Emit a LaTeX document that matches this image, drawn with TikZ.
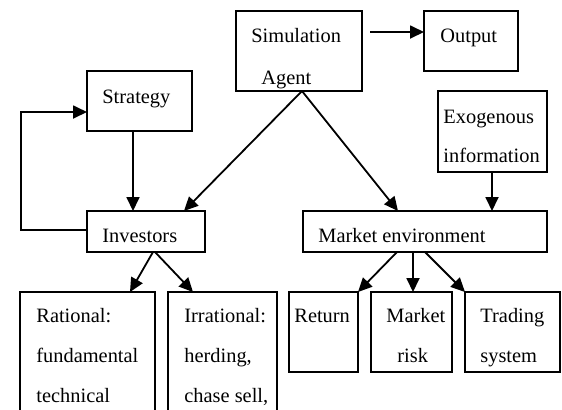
\documentclass[tikz,border=0pt]{standalone}
\usepackage{fontspec}
\setmainfont{Liberation Serif}
\usetikzlibrary{arrows.meta,calc,fit}
\begin{document}
\begin{tikzpicture}[x=0.5pt,y=-0.5pt,
  box/.style={draw, line width=0.9pt, inner sep=0pt, outer sep=0pt},
  txt/.style={anchor=base west, inner sep=0pt, font=\fontsize{10.2pt}{12pt}\selectfont},
  arr/.style={line width=0.9pt, -{Triangle[length=7pt,width=6.5pt]}},
  ln/.style={line width=0.9pt}]
\clip (0,0) rectangle (562,409);
% boxes
\node[box, fit={(236,11) (362,91)}] (sim) {};
\node[box, fit={(424,11) (518,71)}] (out) {};
\node[box, fit={(87,71) (192,131)}] (str) {};
\node[box, fit={(438,91) (547,172)}] (exo) {};
\node[box, fit={(87,211) (205,252)}] (inv) {};
\node[box, fit={(303,211) (547,252)}] (mkt) {};
\node[box, fit={(20,292) (155,430)}] (rat) {};
\node[box, fit={(168,292) (277,430)}] (irr) {};
\node[box, fit={(289,292) (358,372)}] (ret) {};
\node[box, fit={(371,292) (452,372)}] (risk) {};
\node[box, fit={(465,292) (560,372)}] (trd) {};
% texts
\node[txt] (t1) at (251,42) {Simulation};
\node[txt] (t2) at (261,84) {Agent};
\node[txt] (t3) at (440,42) {Output};
\node[txt] (t4) at (102,103) {Strategy};
\node[txt] (t5) at (443,123) {Exogenous};
\node[txt] (t6) at (443,162) {information};
\node[txt] (t7) at (102,242) {Investors};
\node[txt] (t8) at (318,242) {Market environment};
\node[txt] (t9) at (294,322) {Return};
\node[txt] (t10) at (386,322) {Market};
\node[txt] (t11) at (397,362) {risk};
\node[txt] (t12) at (480,322) {Trading};
\node[txt] (t13) at (480,362) {system};
\node[txt] (t14) at (36,322) {Rational:};
\node[txt] (t15) at (36,362) {fundamental};
\node[txt] (t16) at (36,402) {technical};
\node[txt] (t17) at (184,322) {Irrational:};
\node[txt] (t18) at (184,362) {herding,};
\node[txt] (t19) at (184,402) {chase sell,};
% connectors
\draw[arr] ($(sim.north east)+(8,21)$) -- ($(out.north west)+(0,21)$);
\draw[arr] ($(sim.south)+(3,0)$) -- ($(inv.north west)+(97,0)$);
\draw[arr] ($(sim.south)+(3,0)$) -- ($(mkt.north west)+(95,0)$);
\draw[arr] ($(str.south west)+(46,0)$) -- ($(inv.north west)+(46,0)$);
\coordinate (lp1) at (21,230);
\coordinate (lp2) at (21,112);
\draw[arr] ($(inv.north west)+(0,19)$) -- (lp1) -- (lp2) -- ($(str.north west)+(0,41)$);
\draw[arr] ($(exo.south west)+(54,0)$) -- ($(mkt.north west)+(189,0)$);
\draw[arr] ($(inv.south west)+(66,0)$) -- ($(rat.north west)+(110,0)$);
\draw[arr] ($(inv.south west)+(68,0)$) -- ($(irr.north west)+(25,0)$);
\draw[arr] ($(mkt.south west)+(94,0)$) -- (ret.north east);
\draw[arr] ($(mkt.south west)+(110,0)$) -- ($(risk.north west)+(42,0)$);
\draw[arr] ($(mkt.south west)+(122,0)$) -- (trd.north west);
\end{tikzpicture}
\end{document}
